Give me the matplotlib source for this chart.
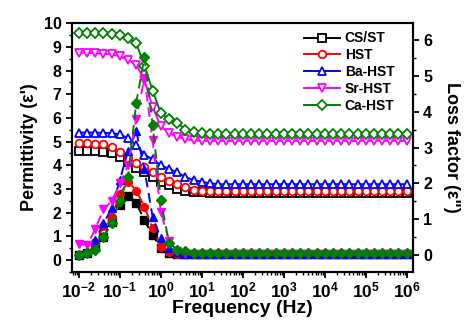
import numpy as np
import matplotlib
matplotlib.use("Agg")
import matplotlib.pyplot as plt
from matplotlib.ticker import MultipleLocator, LogLocator, FuncFormatter, NullFormatter, FixedLocator

plt.rcParams['font.family'] = ['Liberation Sans', 'DejaVu Sans']
plt.rcParams['font.weight'] = 'bold'
plt.rcParams['mathtext.fontset'] = 'custom'
plt.rcParams['mathtext.rm'] = 'Liberation Sans:bold'
plt.rcParams['mathtext.bf'] = 'Liberation Sans:bold'

# log10 of frequency (Hz), 5 points per decade
log_freq = [-2.0, -1.8, -1.6, -1.4, -1.2, -1.0, -0.8, -0.6, -0.4, -0.2,
            0.0, 0.2, 0.4, 0.6, 0.8, 1.0, 1.2, 1.4, 1.6, 1.8,
            2.0, 2.2, 2.4, 2.6, 2.8, 3.0, 3.2, 3.4, 3.6, 3.8,
            4.0, 4.2, 4.4, 4.6, 4.8, 5.0, 5.2, 5.4, 5.6, 5.8, 6.0]
decades = [-2, -1, 0, 1, 2, 3, 4, 5, 6]

samples = ['CS/ST', 'HST', 'Ba-HST', 'Sr-HST', 'Ca-HST']
colors = ['black', 'red', 'blue', 'magenta', 'green']
markers = ['s', 'o', '^', 'v', 'D']

# permittivity (left axis)
perm_csst = [4.62, 4.62, 4.60, 4.58, 4.50, 4.35, 4.15, 3.90, 3.70, 3.50,
             3.30, 3.15, 3.00, 2.92, 2.88, 2.86, 2.85, 2.85, 2.85, 2.85,
             2.85, 2.85, 2.85, 2.85, 2.85, 2.85, 2.85, 2.85, 2.85, 2.85,
             2.85, 2.85, 2.85, 2.85, 2.85, 2.85, 2.85, 2.85, 2.85, 2.85, 2.85]
perm_hst = [4.92, 4.92, 4.90, 4.88, 4.78, 4.55, 4.30, 4.10, 3.92, 3.70,
            3.50, 3.35, 3.22, 3.08, 2.97, 2.92, 2.90, 2.90, 2.90, 2.90,
            2.90, 2.90, 2.90, 2.90, 2.90, 2.90, 2.90, 2.90, 2.90, 2.90,
            2.90, 2.90, 2.90, 2.90, 2.90, 2.90, 2.90, 2.90, 2.90, 2.90, 2.90]
perm_ba = [5.38, 5.38, 5.38, 5.37, 5.35, 5.30, 5.15, 4.85, 4.45, 4.25,
           4.00, 3.85, 3.70, 3.50, 3.38, 3.30, 3.24, 3.20, 3.20, 3.20,
           3.20, 3.20, 3.20, 3.20, 3.20, 3.20, 3.20, 3.20, 3.20, 3.20,
           3.20, 3.20, 3.20, 3.20, 3.20, 3.20, 3.20, 3.20, 3.20, 3.20, 3.20]
perm_sr = [8.75, 8.75, 8.73, 8.70, 8.68, 8.60, 8.44, 8.25, 7.60, 6.45,
           5.65, 5.35, 5.20, 5.10, 5.05, 5.03, 5.03, 5.03, 5.03, 5.03,
           5.03, 5.03, 5.03, 5.03, 5.03, 5.03, 5.03, 5.03, 5.03, 5.03,
           5.03, 5.03, 5.03, 5.03, 5.03, 5.03, 5.03, 5.03, 5.03, 5.03, 5.03]
perm_ca = [9.60, 9.60, 9.60, 9.58, 9.55, 9.50, 9.37, 9.16, 8.20, 7.15,
           6.20, 5.95, 5.80, 5.50, 5.40, 5.36, 5.33, 5.32, 5.31, 5.30,
           5.30, 5.30, 5.30, 5.30, 5.30, 5.30, 5.30, 5.30, 5.30, 5.30,
           5.30, 5.30, 5.30, 5.30, 5.30, 5.30, 5.30, 5.30, 5.30, 5.30, 5.30]

# loss factor (right axis)
loss_csst = [0.00, 0.05, 0.25, 0.50, 0.92, 1.40, 1.65, 1.45, 0.97, 0.55,
             0.20, 0.06, 0.03, 0.02, 0.02, 0.02, 0.02, 0.02, 0.02, 0.02,
             0.02, 0.02, 0.02, 0.02, 0.02, 0.02, 0.02, 0.02, 0.02, 0.02,
             0.02, 0.02, 0.02, 0.02, 0.02, 0.02, 0.02, 0.02, 0.02, 0.02, 0.02]
loss_hst = [0.00, 0.05, 0.35, 0.80, 1.05, 1.70, 2.05, 1.80, 1.35, 0.75,
            0.22, 0.08, 0.04, 0.03, 0.03, 0.03, 0.03, 0.03, 0.03, 0.03,
            0.03, 0.03, 0.03, 0.03, 0.03, 0.03, 0.03, 0.03, 0.03, 0.03,
            0.03, 0.03, 0.03, 0.03, 0.03, 0.03, 0.03, 0.03, 0.03, 0.03, 0.03]
loss_ba = [0.02, 0.10, 0.42, 0.88, 1.30, 2.10, 2.90, 3.45, 2.40, 1.06,
           0.47, 0.20, 0.08, 0.04, 0.03, 0.03, 0.03, 0.03, 0.03, 0.03,
           0.03, 0.03, 0.03, 0.03, 0.03, 0.03, 0.03, 0.03, 0.03, 0.03,
           0.03, 0.03, 0.03, 0.03, 0.03, 0.03, 0.03, 0.03, 0.03, 0.03, 0.03]
loss_sr = [0.30, 0.28, 0.72, 1.28, 1.50, 2.00, 2.50, 3.80, 4.95, 3.20,
           1.20, 0.40, 0.10, 0.05, 0.03, 0.03, 0.03, 0.03, 0.03, 0.03,
           0.03, 0.03, 0.03, 0.03, 0.03, 0.03, 0.03, 0.03, 0.03, 0.03,
           0.03, 0.03, 0.03, 0.03, 0.03, 0.03, 0.03, 0.03, 0.03, 0.03, 0.03]
loss_ca = [0.00, 0.06, 0.15, 0.50, 0.88, 1.50, 2.18, 4.25, 5.52, 3.62,
           1.54, 0.33, 0.15, 0.10, 0.06, 0.05, 0.05, 0.05, 0.05, 0.05,
           0.05, 0.05, 0.05, 0.05, 0.05, 0.05, 0.05, 0.05, 0.05, 0.05,
           0.05, 0.05, 0.05, 0.05, 0.05, 0.05, 0.05, 0.05, 0.05, 0.05, 0.05]

freq = 10 ** np.array(log_freq)
perm = [perm_csst, perm_hst, perm_ba, perm_sr, perm_ca]
loss = [loss_csst, loss_hst, loss_ba, loss_sr, loss_ca]

fig = plt.figure(figsize=(4.67, 3.26), dpi=100)
ax = fig.add_axes([0.154, 0.166, 0.73, 0.763])
ax2 = ax.twinx()

for name, c, m, p in zip(samples, colors, markers, perm):
    ax.plot(freq, p, color=c, marker=m, mfc='white', mec=c, ms=5.5 if m != 'D' else 5,
            mew=1.3, lw=1.4, label=name)

for c, m, l in zip(colors, markers, loss):
    ax2.plot(freq, l, color=c, marker=m, mfc=c, mec=c, ms=5.5 if m != 'D' else 5,
             lw=1.4, ls=(0, (5, 3)))

ax.set_xscale('log')
ax.set_xlim(10 ** -2.17, 10 ** 6.15)
ax.set_ylim(-0.5, 10)
ax2.set_ylim(-0.47, 6.47)

ax.xaxis.set_major_locator(FixedLocator([10.0 ** d for d in decades]))
ax.xaxis.set_minor_locator(LogLocator(base=10, subs=np.arange(2, 10), numticks=100))
ax.xaxis.set_minor_formatter(NullFormatter())
ax.xaxis.set_major_formatter(FuncFormatter(lambda v, pos: r'$\mathbf{10^{%d}}$' % round(np.log10(v))))
ax.yaxis.set_major_locator(MultipleLocator(1))
ax.yaxis.set_minor_locator(MultipleLocator(0.5))
ax2.yaxis.set_major_locator(MultipleLocator(1))
ax2.yaxis.set_minor_locator(MultipleLocator(0.5))

for a in (ax, ax2):
    for s in a.spines.values():
        s.set_linewidth(1.5)
    a.tick_params(which='major', direction='out', length=4, width=1.3, labelsize=11.5)
    a.tick_params(which='minor', direction='out', length=2.5, width=1.0)
ax.tick_params(axis='x', labelsize=12.5, pad=2)

ax.set_xlabel('Frequency (Hz)', fontsize=14, fontweight='bold', labelpad=0)
ax.set_ylabel("Permittivity (ε')", fontsize=13, fontweight='bold', labelpad=4)
ax2.set_ylabel('Loss factor (ε")', fontsize=13, fontweight='bold', rotation=270, labelpad=20)

h, lab = ax.get_legend_handles_labels()
ax2.legend(h, lab, loc='upper right', bbox_to_anchor=(0.97, 1.0), frameon=False,
           fontsize=10, handlelength=2.6, handletextpad=0.3, labelspacing=0.2,
           borderaxespad=0.2)

fig.savefig('out.png', dpi=100)
